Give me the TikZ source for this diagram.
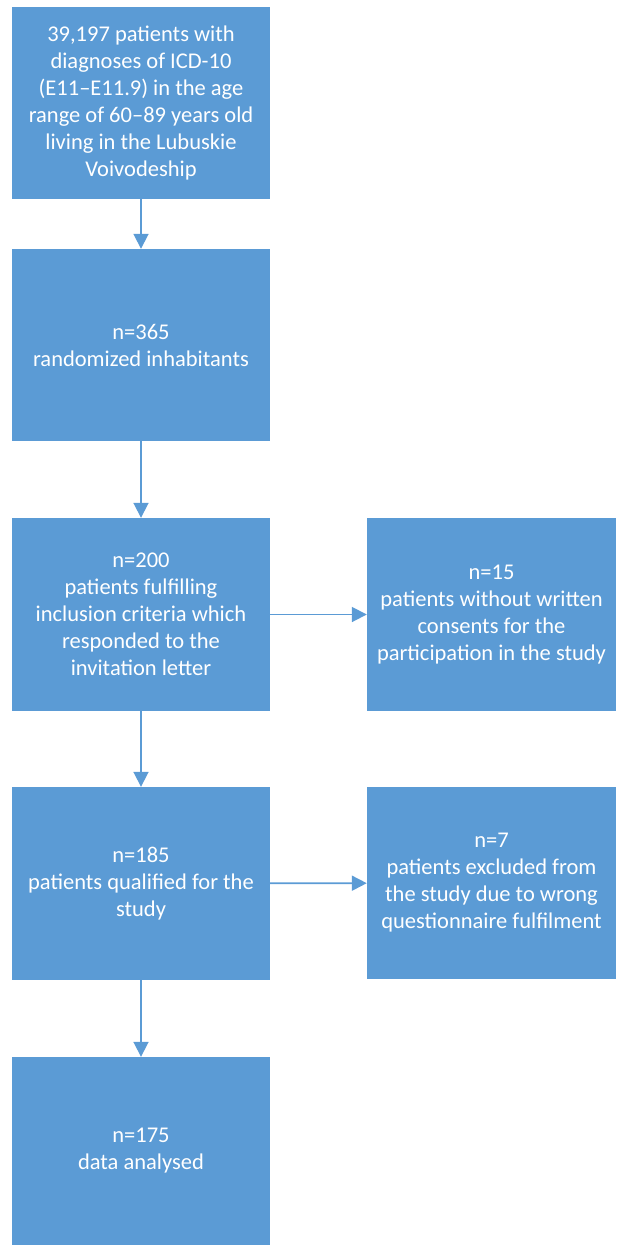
\documentclass[tikz,border=0pt]{standalone}
\usepackage{fontspec}
\setmainfont{Carlito}
\usetikzlibrary{arrows.meta}
\definecolor{boxblue}{HTML}{5B9BD5}
\begin{document}
\begin{tikzpicture}[x=1pt,y=-1pt,
    box/.style = {rectangle,
        fill=boxblue,
        text=white,
        minimum width=258pt,
        align=center,
        inner sep=0pt,
        font=\fontsize{22.5}{27}\selectfont},
    sidebox/.style = {box,
        minimum width=249pt},
    flow/.style = {draw=boxblue,
        line width=1.8pt,
        -{Triangle[length=15pt,width=15pt]}}]

\useasboundingbox (0,0) rectangle (616,1245);

% Main column
\node[box,minimum height=192pt] (pop) at (141,103)
    {39,197 patients with\\diagnoses of ICD-10\\(E11--E11.9) in the age\\range of 60--89 years old\\living in the Lubuskie\\Voivodeship};
\node[box,minimum height=192pt] (rand) at (141,345)
    {n=365\\randomized inhabitants};
\node[box,minimum height=193pt] (resp) at (141,614.5)
    {n=200\\patients fulfilling\\inclusion criteria which\\responded to the\\invitation letter};
\node[box,minimum height=193pt] (qual) at (141,883.5)
    {n=185\\patients qualified for the\\study};
\node[box,minimum height=188pt] (data) at (141,1151)
    {n=175\\data analysed};

% Excluded
\node[sidebox,minimum height=193pt] (nocons) at (491.5,614.5)
    {n=15\\patients without written\\consents for the\\participation in the study};
\node[sidebox,minimum height=192pt] (wrong) at (491.5,883)
    {n=7\\patients excluded from\\the study due to wrong\\questionnaire fulfilment};

% Arrows
\draw[flow] (pop) -- (rand);
\draw[flow] (rand) -- (resp);
\draw[flow] (resp) -- (qual);
\draw[flow] (qual) -- (data);
\draw[flow] (resp) -- (nocons);
\draw[flow] (qual) -- (wrong);
\end{tikzpicture}
\end{document}
